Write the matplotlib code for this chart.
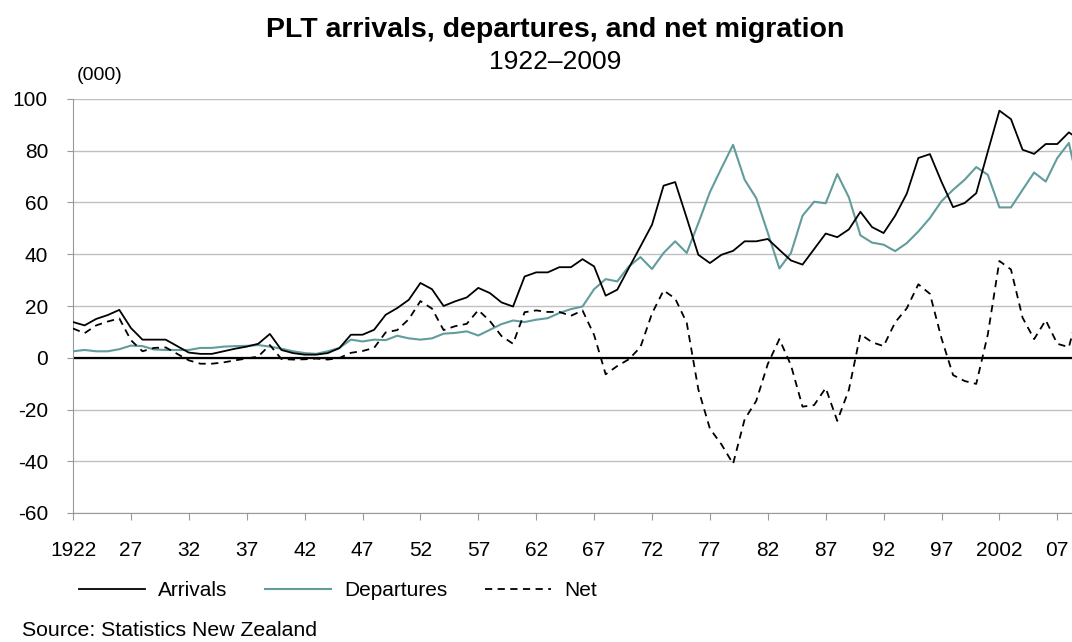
import numpy as np
import matplotlib.pyplot as plt

plt.rcParams['font.family'] = ['Liberation Sans', 'DejaVu Sans']
plt.rcParams['axes.unicode_minus'] = False

# Data (000)
years = list(range(1922, 2010))

arrivals = [13.8, 12.5, 15, 16.5, 18.5, 11.5, 7, 7, 7, 4.5,
            2, 1.5, 1.5, 2.5, 3.5, 4.3, 5.4, 9.2, 3, 1.8,
            1.2, 1.2, 1.8, 3.7, 8.9, 8.9, 10.8, 16.6, 19.2, 22.4,
            28.9, 26.5, 20, 21.8, 23.3, 27, 25, 21.4, 19.8, 31.4,
            33, 33, 35, 35, 38.1, 35.3, 24, 26.3, 34.7, 43,
            51.4, 66.5, 67.9, 54, 39.8, 36.6, 39.8, 41.3, 45, 45,
            45.9, 41.7, 37.6, 36, 42, 48, 46.6, 49.6, 56.4, 50.5,
            48.2, 54.9, 63.4, 77.2, 78.7, 68, 58.2, 59.8, 63.6, 79.7,
            95.5, 92.2, 80.4, 78.8, 82.6, 82.6, 87.1, 84]

departures = [2.5, 3, 2.5, 2.5, 3.3, 4.7, 4.5, 3.2, 3, 3,
              3, 3.8, 3.8, 4.3, 4.5, 4.6, 4.9, 4.3, 3.5, 2.5,
              1.8, 1.5, 2.5, 3.8, 7, 6.3, 7, 6.8, 8.5, 7.5,
              7, 7.5, 9.3, 9.6, 10.2, 8.6, 10.8, 13, 14.4, 13.8,
              14.7, 15.3, 17.3, 18.8, 19.8, 26.5, 30.4, 29.5, 35.3, 38.9,
              34.3, 40.5, 45, 40.5, 52, 64, 73.3, 82.3, 68.8, 61.7,
              48.3, 34.5, 40.5, 54.9, 60.3, 59.7, 71, 62, 47.3, 44.5,
              43.7, 41.2, 44.3, 48.8, 54, 60.5, 64.9, 68.8, 73.7, 70.7,
              58.1, 58.1, 64.9, 71.6, 68.1, 77.2, 83, 63]

net = [11.3, 9.5, 12.5, 14, 15.2, 6.8, 2.5, 3.8, 4, 1.5,
       -1, -2.3, -2.3, -1.8, -1, -0.3, 0.5, 4.9, -0.5, -0.7,
       -0.6, -0.3, -0.7, -0.1, 1.9, 2.6, 3.8, 9.8, 10.7, 14.9,
       21.9, 19, 10.7, 12.2, 13.1, 18.4, 14.2, 8.4, 5.4, 17.6,
       18.3, 17.7, 17.7, 16.2, 18.3, 8.8, -6.4, -3.2, -0.6, 4.1,
       17.1, 26, 22.9, 13.5, -12.2, -27.4, -33.5, -41, -23.8, -16.7,
       -2.4, 7.2, -2.9, -18.9, -18.3, -11.7, -24.4, -12.4, 9.1, 6,
       4.5, 13.7, 19.1, 28.4, 24.7, 7.5, -6.7, -9, -10.1, 9,
       37.4, 34.1, 15.5, 7.2, 14.5, 5.4, 4.1, 21]

tick_years = list(range(1922, 2010, 5))
tick_labels = ['1922', '27', '32', '37', '42', '47', '52', '57', '62', '67',
               '72', '77', '82', '87', '92', '97', '2002', '07']

# Figure
fig = plt.figure(figsize=(10.72, 6.42), dpi=100)
ax = fig.add_axes([73 / 1072, 129 / 642, 1 - 73 / 1072, 414 / 642])

teal = '#629c9c'
ax.plot(years, arrivals, color='black', lw=1.3, label='Arrivals', zorder=4)
ax.plot(years, departures, color=teal, lw=1.5, label='Departures', zorder=3)
ax.plot(years, net, color='black', lw=1.3, ls=(0, (4, 3)), label='Net', zorder=4)
ax.axhline(0, color='black', lw=1.6, zorder=2)

ax.set_ylim(-60, 100)
ax.set_xlim(1922, 1922 + (1072 - 73) / 11.58)
ax.set_yticks(np.arange(-60, 101, 20))
ax.set_xticks(tick_years)
ax.set_xticklabels(tick_labels)

# gridlines
ax.grid(axis='y', color='#c0c0c0', lw=1.0)
ax.set_axisbelow(True)

for s in ['top', 'right']:
    ax.spines[s].set_visible(False)
ax.spines['left'].set_color('#999999')
ax.spines['bottom'].set_color('#999999')
ax.tick_params(axis='x', colors='#999999', length=5, labelcolor='black',
               labelsize=15, pad=15)
ax.tick_params(axis='y', colors='#999999', length=4, labelcolor='black',
               labelsize=15, pad=14)

# Titles and notes
fig.text(0.518, 0.953, 'PLT arrivals, departures, and net migration',
         ha='center', va='center', fontsize=20.5, fontweight='bold')
fig.text(0.518, 0.903, '1922\u20132009', ha='center', va='center', fontsize=19)
fig.text(77 / 1072, 1 - 75 / 642, '(000)', ha='left', va='center', fontsize=14)
fig.text(22 / 1072, 1 - 630 / 642, 'Source: Statistics New Zealand',
         ha='left', va='center', fontsize=15.3)

fig.legend(loc='center left', bbox_to_anchor=(60 / 1072, 1 - 591 / 642),
           ncol=3, frameon=False, fontsize=15, handlelength=3.2,
           columnspacing=1.8, handletextpad=0.6)

fig.savefig('out.png', dpi=100)
